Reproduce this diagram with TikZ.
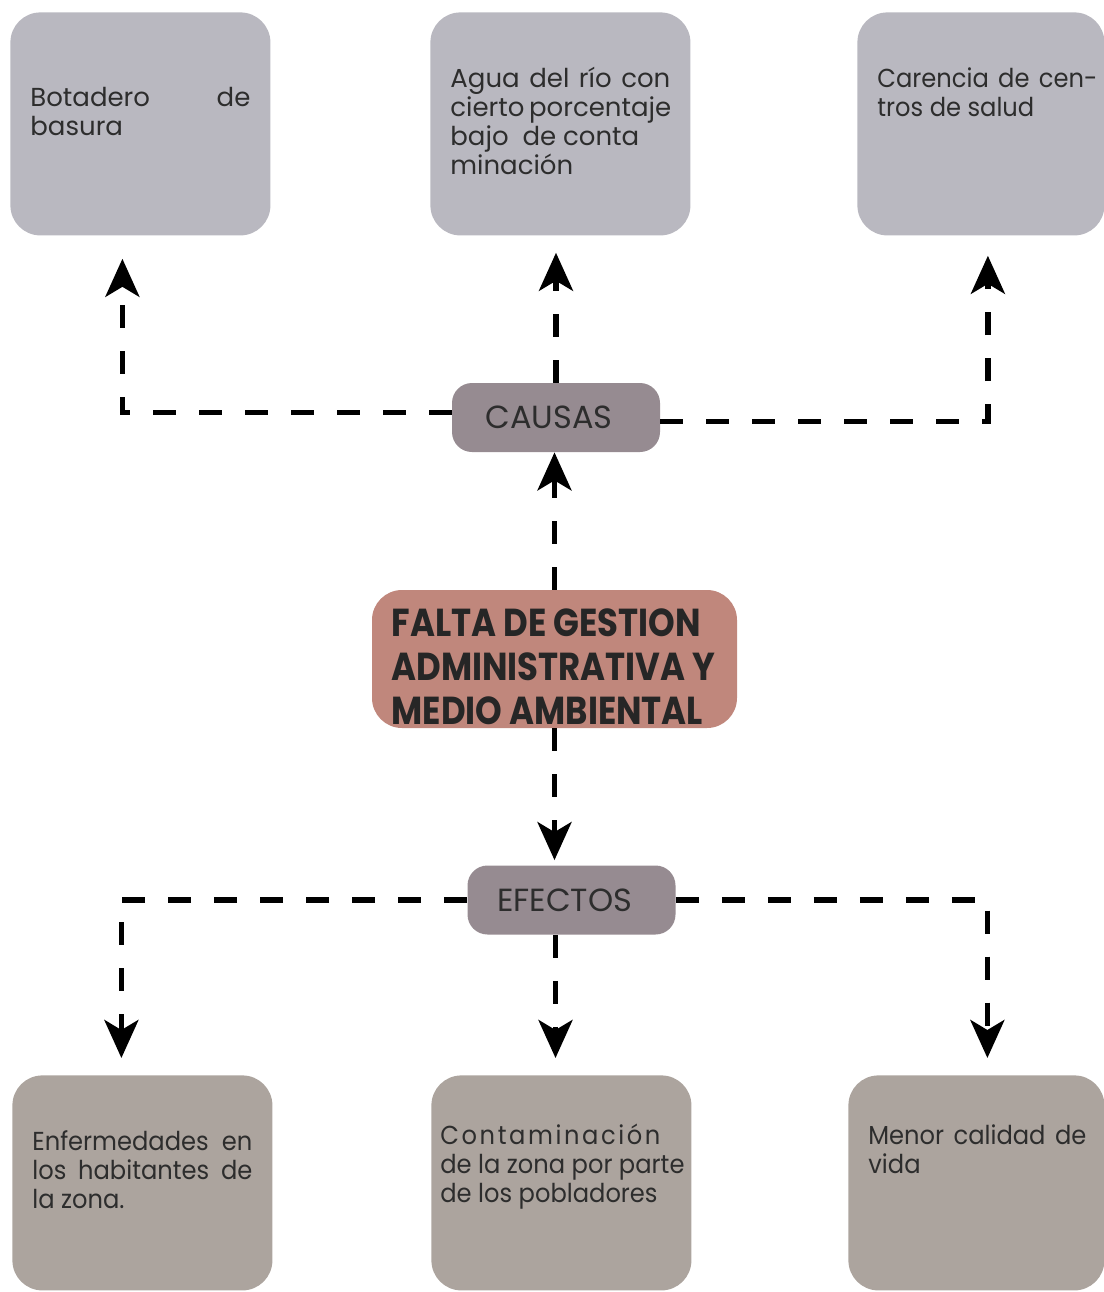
\documentclass[tikz,border=0pt]{standalone}
\usepackage{fontspec}
\setmainfont{Poppins}
\newfontfamily\narrowfont[FakeStretch=0.93]{Poppins}
\newfontfamily\titlefont[FakeStretch=0.87]{Poppins}
\usetikzlibrary{arrows.meta}

\definecolor{causecol}{RGB}{185,184,192}
\definecolor{effectcol}{RGB}{172,164,158}
\definecolor{tagcol}{RGB}{150,139,145}
\definecolor{maincol}{RGB}{192,135,124}
\definecolor{inkcol}{RGB}{45,45,45}

%% box text: height, width, top gap, lines
\newcommand\cajatexto[4]{\parbox[c][#1][t]{#2}{\raggedright\vspace*{#3}#4}}
%% a justified line
\newcommand\llena[2][\linewidth]{\makebox[#1][s]{#2}}

\begin{document}
\begin{tikzpicture}[x=0.5pt,y=-0.5pt,
  caja/.style={fill=#1, rounded corners=15pt, anchor=north west, inner xsep=10pt,
    inner ysep=0pt, text=inkcol, font=\fontsize{13}{14.5}\selectfont},
  etiqueta/.style={fill=tagcol, rounded corners=10pt, minimum width=104pt,
    minimum height=34.5pt, inner sep=0pt, text=inkcol, font=\fontsize{16}{18}\selectfont},
  enlace/.style={line width=2.6pt, dash pattern=on 11.5pt off 11.5pt,
    -{Stealth[length=19pt,width=17pt,inset=5pt]}}]

  \useasboundingbox (0,0) rectangle (1104,1292);

  %% causas
  \node[caja=causecol] (bota) at (10,12)
    {\cajatexto{111.5pt}{110pt}{37.5pt}{\llena{Botadero de}\\ basura}};
  \node[caja=causecol] (agua) at (430,12)
    {\cajatexto{111.5pt}{110pt}{27.5pt}{\llena{Agua del río con}\\ \llena{cierto porcentaje}\\ bajo\ \ de conta\\ minación}};
  \node[caja=causecol, font=\narrowfont\fontsize{13}{14.5}\selectfont] (salud) at (857,12)
    {\cajatexto{111.5pt}{103.5pt}{27.5pt}{\llena[110pt]{Carencia de cen-}\\ tros de salud}};

  \node[etiqueta] (causas) at (556,417.5) {\hspace*{-7pt}CAUSAS};

  %% problema central
  \node[fill=maincol, rounded corners=15pt, minimum width=182.5pt, minimum height=69pt,
    inner sep=0pt, text=black!85,
    font=\titlefont\bfseries\fontsize{19.5}{22}\selectfont] (falta) at (554.5,659)
    {\parbox{163pt}{\raggedright\vspace*{8pt}\mbox{FALTA DE GESTION}\\ \mbox{ADMINISTRATIVA Y}\\ \mbox{MEDIO AMBIENTAL}}};

  \node[etiqueta] (efectos) at (571.5,900) {\hspace*{-7pt}EFECTOS};

  %% efectos
  \node[caja=effectcol, font=\narrowfont\fontsize{13}{14.5}\selectfont] (enferm) at (12,1075)
    {\cajatexto{107.5pt}{110pt}{27.5pt}{\llena{Enfermedades en}\\ \llena{los habitantes de}\\ la zona.}};
  \node[caja=effectcol, inner xsep=4.5pt, font=\narrowfont\fontsize{13}{14.5}\selectfont] (contam) at (431,1075)
    {\cajatexto{107.5pt}{121pt}{24.5pt}{\llena[110pt]{C\hfill o\hfill n\hfill t\hfill a\hfill m\hfill i\hfill n\hfill a\hfill c\hfill i\hfill ó\hfill n}\\ \mbox{de la zona por parte}\\ \mbox{de los pobladores}}};
  \node[caja=effectcol, font=\narrowfont\fontsize{13}{14.5}\selectfont] (menor) at (848,1075)
    {\cajatexto{107.5pt}{108pt}{24.5pt}{\llena[109pt]{Menor calidad de}\\ vida}};

  %% flechas hacia las causas
  \draw[enlace] (falta.north) -- (falta.north |- causas.south);
  \draw[enlace, shorten >=8.5pt] (causas.north) -- (causas.north |- agua.south);
  \draw[enlace, shorten >=11.5pt] ([yshift=2.5pt]causas.west) -| ([xshift=-9pt]bota.south);
  \draw[enlace, shorten >=10pt] ([yshift=-2pt]causas.east) -| ([xshift=3.5pt]salud.south);

  %% flechas hacia los efectos
  \draw[enlace, shorten >=2.5pt] (falta.south) -- (falta.south |- efectos.north);
  \draw[enlace, shorten >=8.5pt] (efectos.west) -| ([xshift=-10.5pt]enferm.north);
  \draw[enlace, shorten >=8.5pt] ([xshift=-8pt]efectos.south) -- ([xshift=-8pt]efectos.south |- contam.north);
  \draw[enlace, shorten >=8.5pt] (efectos.east) -| ([xshift=5.5pt]menor.north);

\end{tikzpicture}
\end{document}
